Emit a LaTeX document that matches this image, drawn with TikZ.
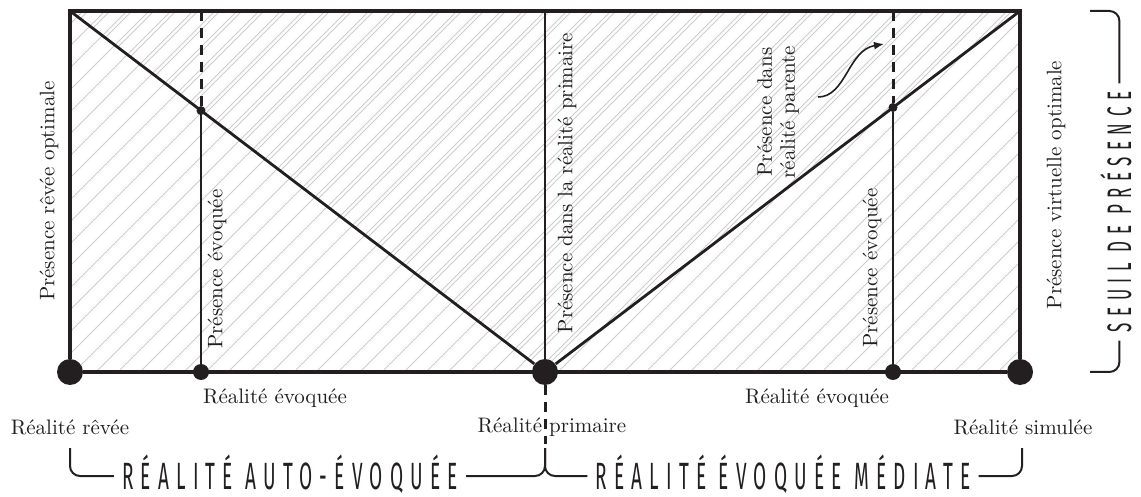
\documentclass[tikz,border=0pt]{standalone}
\usepackage{fontspec}
\newfontfamily\seuilfont[FakeStretch=0.5, LetterSpace=19]{Fira Sans}
\usetikzlibrary{arrows.meta}
\definecolor{ink}{RGB}{35,31,32}
\definecolor{hatchgray}{RGB}{205,205,205}

\begin{document}
\begin{tikzpicture}[x=0.5pt, y=-0.5pt, font=\fontsize{10.5}{11.5}\selectfont]

		% Setup the styles
		\tikzset{big dot/.style={circle, fill=ink, inner sep=0pt, minimum size=13pt},
				mid dot/.style={circle, fill=ink, inner sep=0pt, minimum size=8pt},
				small dot/.style={circle, fill=ink, inner sep=0pt, minimum size=4.5pt},
				frame line/.style={draw=ink, line width=2.4pt, line join=miter},
				inner line/.style={draw=ink, line width=1.4pt},
				dash line/.style={inner line, line width=1.5pt, dash pattern=on 5pt off 3.5pt},
				hatch line/.style={draw=hatchgray, line width=0.5pt},
				brace line/.style={draw=ink, line width=1pt, rounded corners=5pt},
				side text/.style={rotate=90, inner sep=0pt, text=ink},
				base text/.style={inner sep=0pt, text=ink},
				brace text/.style={font=\seuilfont\fontsize{19}{19}\selectfont, inner sep=0pt, text=ink}}

		\useasboundingbox (0,0) rectangle (1141,497);

		% Corners and free ends
		\coordinate (tl) at (70,11);
		\coordinate (tr) at (1020,11);
		\coordinate (tm) at (545,11);
		\coordinate (evoqL) at (201,11);
		\coordinate (evoqR) at (893,11);
		\coordinate (primbas) at (545,444);
		\coordinate (hookL) at (70,448);
		\coordinate (hookM) at (545,448);
		\coordinate (hookR) at (1022,448);
		\coordinate (seuilhaut) at (1090,11);
		\coordinate (seuilbas) at (1090,372);
		\coordinate (flecheA) at (818,97);
		\coordinate (flecheB) at (884,44);

		% Hatching
		\begin{scope}
			\clip (70,11) rectangle (1020,372);
			\foreach \x in {-300,-278,...,1020}
				\draw[hatch line] (\x,372) -- ++(361,-361);
		\end{scope}
		\begin{scope}
			\clip (70,11) -- (545,372) -- (1020,11) -- cycle;
			\foreach \x in {-295,-273,...,1020}
				\draw[hatch line] (\x,372) -- ++(361,-361);
		\end{scope}

		% Draw the points
		\node[big dot] at (70,372) (reve) {};
		\node[big dot] at (545,372) (primaire) {};
		\node[big dot] at (1020,372) (simule) {};
		\node[mid dot] at (201,372) (evoqueL) {};
		\node[mid dot] at (893,372) (evoqueR) {};
		\node[small dot] at (201,110.6) (seuilL) {};
		\node[small dot] at (893,107.5) (seuilR) {};

		% Connect the points
		\draw[frame line] (reve) -- (tl) -- (tr) -- (simule) -- (reve);
		\draw[inner line] (tl) -- (primaire) -- (tr);
		\draw[inner line] (tm) -- (primaire);
		\draw[inner line] (seuilL) -- (evoqueL);
		\draw[inner line] (seuilR) -- (evoqueR);
		\draw[dash line] (evoqL) -- (seuilL);
		\draw[dash line] (evoqR) -- (seuilR);
		\draw[dash line] (primaire) -- (primbas);
		\draw[-{Latex[length=5pt, width=4pt]}, ink, line width=0.8pt] (flecheA) .. controls (846,97) and (848,50) .. (flecheB);

		% Presence labels
		\node[side text] at (49,191) (optrev) {Présence rêvée optimale};
		\node[side text] at (217,269) (presevL) {Présence évoquée};
		\node[side text] at (567,183) (presprim) {Présence dans la réalité primaire};
		\node[side text, align=center] at (778,112) (presparent) {Présence dans\\réalité parente};
		\node[side text] at (872,268) (presevR) {Présence évoquée};
		\node[side text] at (1056,185) (optvirt) {Présence virtuelle optimale};

		% Reality labels
		\node[base text] at (70,427) (lreve) {Réalité rêvée};
		\node[base text] at (275,398) (levoqL) {Réalité évoquée};
		\node[base text] at (552,427) (lprim) {Réalité primaire};
		\node[base text] at (817,398) (levoqR) {Réalité évoquée};
		\node[base text] at (1023,427) (lsimul) {Réalité simulée};

		% Braces
		\node[brace text, anchor=base] at (290,489) (autoevo) {RÉALITÉ AUTO-ÉVOQUÉE};
		\node[brace text, anchor=base] at (783,489) (mediate) {RÉALITÉ ÉVOQUÉE MÉDIATE};
		\node[brace text, font=\seuilfont\fontsize{17}{17}\selectfont, rotate=90, anchor=base] at (1131,212) (seuil) {SEUIL DE PRÉSENCE};

		\draw[brace line] (hookL) |- ([xshift=-4pt, yshift=6.5pt]autoevo.base west);
		\draw[brace line] ([xshift=4pt, yshift=6.5pt]autoevo.base east) -| (hookM);
		\draw[brace line] (hookM) |- ([xshift=-4pt, yshift=6.5pt]mediate.base west);
		\draw[brace line] ([xshift=4pt, yshift=6.5pt]mediate.base east) -| (hookR);
		\draw[brace line] (seuilhaut) -| ([xshift=-5.8pt, yshift=4pt]seuil.base east);
		\draw[brace line] (seuilbas) -| ([xshift=-5.8pt, yshift=-4pt]seuil.base west);

\end{tikzpicture}
\end{document}
